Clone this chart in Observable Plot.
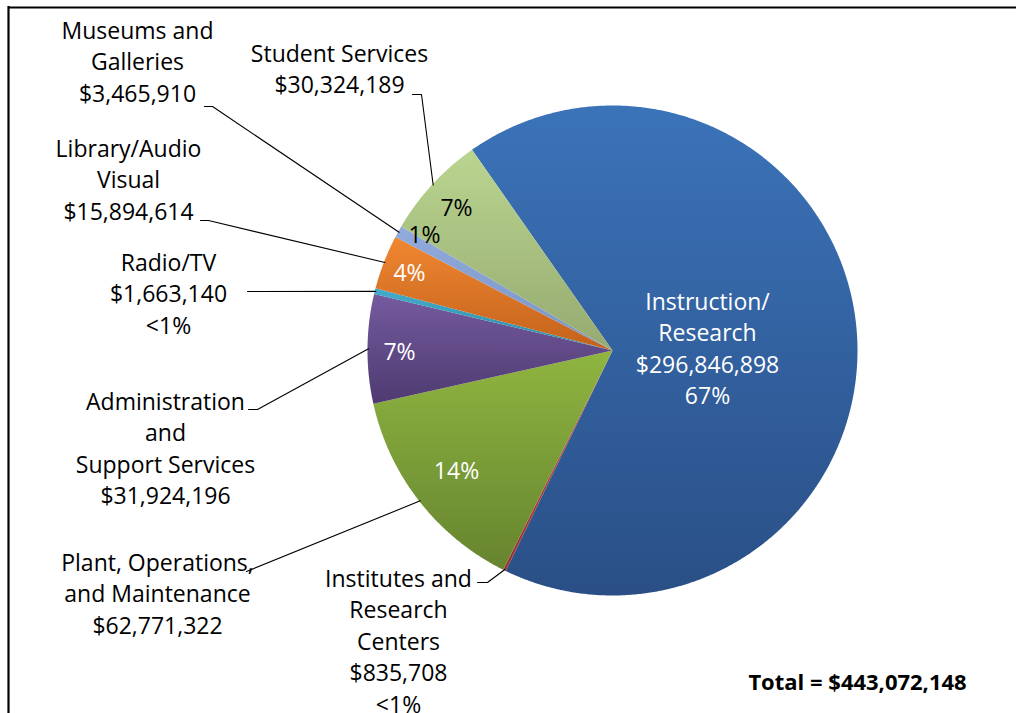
<!DOCTYPE html>
<html>
<head>
<meta charset="utf-8">
<script src="https://cdn.jsdelivr.net/npm/d3@7"></script>
<script src="https://cdn.jsdelivr.net/npm/@observablehq/plot@0.6"></script>
<style>
  html, body { margin: 0; padding: 0; background: #ffffff; }
  #chart svg { display: block; }
</style>
</head>
<body>
<div id="chart"></div>
<script>
// ---------------- data ----------------
const categories = [
  "Instruction/Research",
  "Institutes and Research Centers",
  "Plant, Operations, and Maintenance",
  "Administration and Support Services",
  "Radio/TV",
  "Library/Audio Visual",
  "Museums and Galleries",
  "Student Services"
];
const values = [296846898, 835708, 62771322, 31924196, 1663140, 15894614, 3465910, 30324189];
const percentLabels = ["67%", "<1%", "14%", "7%", "<1%", "4%", "1%", "7%"];
const nameLines = [
  ["Instruction/", "Research"],
  ["Institutes and", "Research", "Centers"],
  ["Plant, Operations,", "and Maintenance"],
  ["Administration", "and", "Support Services"],
  ["Radio/TV"],
  ["Library/Audio", "Visual"],
  ["Museums and", "Galleries"],
  ["Student Services"]
];
const totalLabel = "Total = $443,072,148";

// ---------------- styles ----------------
const gradientColors = [
  ["#3b73b9", "#2a4f86"], // Instruction/Research
  ["#c0504d", "#9b3532"], // Institutes
  ["#8fb540", "#66842f"], // Plant
  ["#745b9f", "#4f3a70"], // Administration
  ["#43acca", "#2b8ba6"], // Radio/TV
  ["#f08731", "#c3621c"], // Library
  ["#90abdc", "#7a95c4"], // Museums
  ["#bad590", "#95aa70"]  // Student Services
];

// ---------------- layout ----------------
const W = 1016, H = 713;
const cx = 612, cy = 350, R = 245;
const startDeg = -35;
const fontSize = 23, lineStep = 31.5, textShift = -3;
// outside labels: center x, first-line center y, leader start points (to the slice edge)
const outsideLayout = {
  1: {x: 398, y: 579, showPct: true,  leader: [[477, 582], [487, 582]]},
  2: {x: 157, y: 563, showPct: false, leader: [[246, 571]]},
  3: {x: 165, y: 402, showPct: false, leader: [[248, 409], [257, 409]]},
  4: {x: 168, y: 263, showPct: true,  leader: [[247, 291]]},
  5: {x: 128, y: 149, showPct: false, leader: [[200, 220], [208, 220]]},
  6: {x: 137, y: 31,  showPct: false, leader: [[204, 106], [212, 106]]},
  7: {x: 339, y: 54,  showPct: false, leader: [[412, 94], [421, 94]]}
};
// inside labels: position and color
const insideLayout = {
  0: {x: 707, y: 302, fill: "white", full: true},
  2: {x: 456, y: 471, fill: "white"},
  3: {x: 399, y: 352, fill: "white"},
  5: {x: 409, y: 273, fill: "white"},
  6: {x: 424, y: 235, fill: "black"},
  7: {x: 456, y: 208, fill: "black"}
};

// ---------------- geometry from values ----------------
const fmt = d3.format("$,");
const rad = Math.PI / 180;
const arcs = d3.pie().sort(null).value(d => d)
  .startAngle(startDeg * rad).endAngle((startDeg + 360) * rad)(values);
const pt = (a, r) => [cx + r * Math.sin(a), cy - r * Math.cos(a)];

const slicePoints = arcs.map((a, i) => {
  const pts = [{i, x: cx, y: cy}];
  const n = Math.max(2, Math.ceil((a.endAngle - a.startAngle) / (0.4 * rad)));
  for (let k = 0; k <= n; k++) {
    const ang = a.startAngle + (a.endAngle - a.startAngle) * k / n;
    const [x, y] = pt(ang, R);
    pts.push({i, x, y});
  }
  pts.push({i, x: cx, y: cy});
  return pts;
});

const leaderPoints = [];
Object.entries(outsideLayout).forEach(([k, L]) => {
  const i = +k;
  const mid = (arcs[i].startAngle + arcs[i].endAngle) / 2;
  L.leader.forEach(([x, y]) => leaderPoints.push({i, x, y}));
  const [ex, ey] = pt(mid, R - 1);
  leaderPoints.push({i, x: ex, y: ey});
});

const outsideTexts = Object.entries(outsideLayout).map(([k, L]) => {
  const i = +k;
  const lines = [...nameLines[i], fmt(values[i])];
  if (L.showPct) lines.push(percentLabels[i]);
  return {x: L.x, y: L.y + textShift + (lines.length - 1) * lineStep / 2, text: lines.join("\n")};
});

const insideTexts = Object.entries(insideLayout).map(([k, L]) => {
  const i = +k;
  const lines = L.full ? [...nameLines[i], fmt(values[i]), percentLabels[i]] : [percentLabels[i]];
  return {x: L.x, y: L.y + textShift + (lines.length - 1) * lineStep / 2, text: lines.join("\n"), fill: L.fill};
});

// ---------------- plot ----------------
const plot = Plot.plot({
  width: W,
  height: H,
  margin: 0,
  x: {domain: [0, W], range: [0, W], axis: null},
  y: {domain: [0, H], range: [0, H], axis: null},
  style: {fontFamily: "'Open Sans', sans-serif", background: "white", overflow: "visible"},
  marks: [
    Plot.ruleY([7], {x1: 8, x2: W, stroke: "black", strokeWidth: 2.2}),
    Plot.ruleX([8], {y1: 6, y2: H, stroke: "black", strokeWidth: 2.2}),
    ...slicePoints.map((pts, i) => Plot.line(pts, {
      x: "x", y: "y", fill: `url(#slice-grad-${i})`, stroke: "none", curve: "linear"
    })),
    Plot.line(leaderPoints, {x: "x", y: "y", z: "i", stroke: "black", strokeWidth: 1.1}),
    Plot.text(outsideTexts, {
      x: "x", y: "y", text: "text", fontSize, lineHeight: lineStep / fontSize,
      fill: "black", textAnchor: "middle"
    }),
    Plot.text(insideTexts.filter(d => d.fill === "white"), {
      x: "x", y: "y", text: "text", fontSize, lineHeight: lineStep / fontSize,
      fill: "white", textAnchor: "middle"
    }),
    Plot.text(insideTexts.filter(d => d.fill === "black"), {
      x: "x", y: "y", text: "text", fontSize, lineHeight: lineStep / fontSize,
      fill: "black", textAnchor: "middle"
    }),
    Plot.text([totalLabel], {
      x: () => 857, y: () => 682, text: d => d, fontSize: 22, fontWeight: "bold",
      fill: "black", textAnchor: "middle"
    })
  ]
});

// gradient definitions for slices
const defs = d3.select(plot).insert("defs", ":first-child");
gradientColors.forEach(([top, bottom], i) => {
  const g = defs.append("linearGradient")
    .attr("id", `slice-grad-${i}`)
    .attr("x1", 0).attr("y1", 0).attr("x2", 0).attr("y2", 1);
  g.append("stop").attr("offset", 0).attr("stop-color", top);
  g.append("stop").attr("offset", 1).attr("stop-color", bottom);
});

document.getElementById("chart").appendChild(plot);
</script>
</body>
</html>
